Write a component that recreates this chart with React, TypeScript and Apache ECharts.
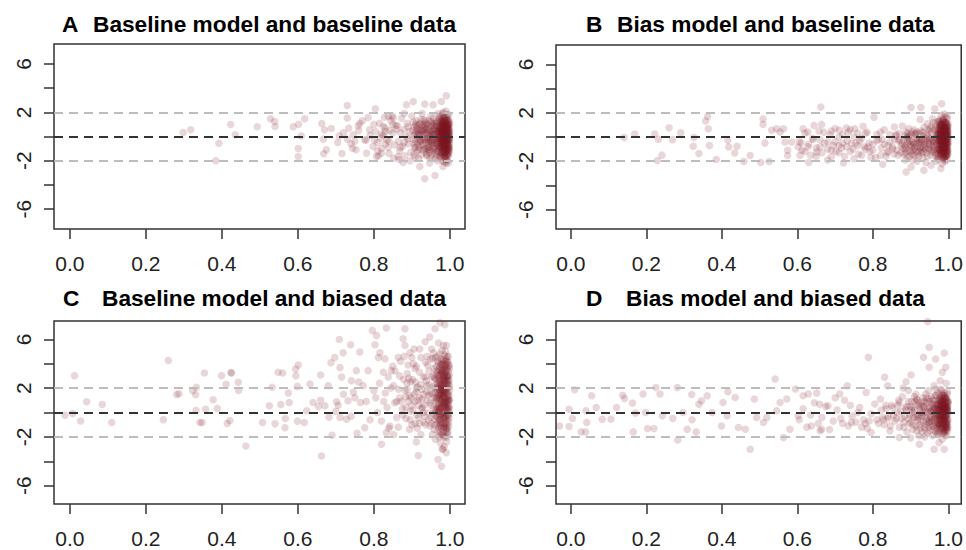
import React, { useEffect, useRef } from "react";
import * as echarts from "echarts";

const xTicks = [0, 0.2, 0.4, 0.6, 0.8, 1.0];
const yTicks = [-6, -4, -2, 0, 2, 4, 6];
const yLabelValues = [-6, -2, 2, 6];
const refLines = [0, 2, -2];

const panelLetters = ["A", "B", "C", "D"];
const panelTitles = [
  "Baseline model and baseline data",
  "Bias model and baseline data",
  "Baseline model and biased data",
  "Bias model and biased data",
];

const pointsA: number[][] = [
  [0.298,0.33],[0.318,0.55],[0.423,0.99],[0.435,0.14],[0.392,-0.55],[0.384,-2.0],[0.493,0.8],[0.528,1.46],[0.539,1.24],[0.54,0.83],
  [0.588,0.8],[0.602,1.02],[0.618,1.46],[0.609,0.05],[0.601,-1.0],[0.601,-1.66],[0.663,1.08],[0.67,0.55],[0.688,0.66],[0.667,-0.22],
  [0.675,-1.1],[0.668,-1.43],[0.709,0.05],[0.705,-0.5],[0.716,-1.4],[0.73,2.57],[0.73,1.52],[0.734,0.69],[0.759,0.88],[0.763,1.1],
  [0.746,0.14],[0.744,-0.97],[0.753,-1.1],[0.781,-1.38],[0.785,1.57],[0.804,2.29],[0.776,-0.28],[0.789,0.55],[0.798,-0.83],[0.807,-1.66],
  [0.82,-1.38],[0.825,0.83],[0.838,1.66],[0.851,1.52],[0.864,-1.66],[0.877,-2.15],[0.886,2.62],[0.904,2.9],[0.934,2.68],[0.978,2.9],
  [0.991,3.37],[0.956,2.62],[0.934,-3.5],[0.961,-3.23],[0.921,-2.48],[0.947,-2.2],[0.982,-2.48],
  [0.972,1.6],[0.975,1.2],[0.978,0.8],[0.98,0.4],[0.982,0.1],[0.984,-0.3],[0.986,-0.7],[0.988,-1.1],[0.99,-1.5],[0.992,-1.9],
  [0.994,1.8],[0.996,1.4],[0.998,0.9],[0.999,0.5],[0.997,0.2],[0.995,-0.2],[0.993,-0.6],[0.991,-1.0],[0.989,-1.3],[0.987,-1.7],
  [0.985,-2.1],[0.983,2.0],[0.981,1.5],[0.979,1.0],[0.977,0.6],[0.975,0.3],[0.973,-0.1],[0.971,-0.5],[0.974,-0.9],[0.976,-1.3],
  [0.978,-1.6],[0.98,-2.0],[0.982,1.3],[0.984,0.7],[0.986,0.3],[0.988,-0.1],[0.99,-0.4],[0.992,-0.8],[0.994,-1.2],[0.996,-1.6],
  [0.998,-0.3],[0.999,0.0],[0.997,-0.9],[0.995,0.6],[0.993,1.1],[0.991,1.6],[0.989,0.4],[0.987,0.8],[0.985,1.2],[0.983,-0.5],
  [0.981,-0.9],[0.979,-0.2],[0.977,0.1],[0.975,-0.6],[0.973,0.9],[0.971,0.2],[0.99,2.1],[0.996,-2.2],[0.984,-1.4],[0.992,0.0],
  [0.932,1.4],[0.935,0.9],[0.938,0.3],[0.94,-0.2],[0.943,-0.8],[0.946,-1.3],[0.948,-1.8],[0.95,1.7],[0.953,1.1],[0.955,0.5],
  [0.958,0.0],[0.96,-0.5],[0.962,-1.0],[0.965,-1.5],[0.967,-2.0],[0.969,1.9],[0.964,1.3],[0.961,0.7],[0.957,0.2],[0.954,-0.3],
  [0.951,-0.7],[0.947,-1.1],[0.944,0.6],[0.941,1.0],[0.937,-0.5],[0.934,-1.0],[0.966,0.4],[0.968,-0.3],[0.963,-0.1],[0.959,-1.4],
  [0.956,1.5],[0.952,-1.6],[0.945,0.1],[0.939,-1.5],[0.93,0.5],
  [0.862,0.9],[0.865,-0.4],[0.868,-1.2],[0.87,0.3],[0.873,1.5],[0.876,-0.8],[0.879,0.6],[0.882,-1.6],[0.885,0.0],[0.888,1.1],
  [0.891,-0.6],[0.894,0.4],[0.897,-1.3],[0.9,1.7],[0.903,-0.2],[0.906,0.8],[0.909,-0.9],[0.912,1.3],[0.915,0.1],[0.918,-1.8],
  [0.921,0.5],[0.924,-0.4],[0.927,1.9],[0.929,-1.1],[0.88,1.9],[0.895,-2.0],[0.91,0.2],[0.92,1.0],[0.867,-1.9],[0.905,-1.5],
  [0.805,0.4],[0.81,-0.5],[0.815,1.1],[0.82,-1.0],[0.825,0.1],[0.83,0.7],[0.835,-0.3],[0.84,-1.4],[0.845,1.3],[0.85,0.3],
  [0.855,-0.7],[0.858,0.9],[0.812,-1.6],[0.828,1.6],[0.842,0.5],[0.852,-1.8],[0.818,-0.1],[0.838,-0.9],[0.848,1.7],[0.802,-0.3],
];

const denseA: number[][] = [
  [0.966,1.1],[0.968,0.5],[0.97,-0.2],[0.972,-0.8],[0.974,-1.4],[0.976,1.7],[0.978,0.2],[0.98,-0.5],[0.982,-1.2],[0.984,1.0],
  [0.986,1.6],[0.988,0.6],[0.99,0.2],[0.992,-0.3],[0.994,-0.7],[0.996,0.0],[0.998,-1.1],[0.999,1.2],[0.997,-1.4],[0.995,1.0],
  [0.993,0.4],[0.991,-0.2],[0.989,-0.8],[0.987,0.1],[0.985,-0.4],[0.983,0.3],[0.981,0.8],[0.979,-1.1],[0.977,-0.3],[0.975,0.7],
  [0.973,1.4],[0.971,-1.0],[0.969,0.0],[0.967,-0.6],[0.97,0.8],[0.974,0.4],[0.978,-0.1],[0.982,-0.7],[0.986,-1.0],[0.99,0.6],
  [0.994,0.2],[0.998,0.6],[0.996,0.3],[0.992,0.9],[0.988,1.3],[0.984,0.0],[0.98,0.9],[0.976,-0.9],[0.972,0.3],[0.968,-1.2],
  [0.985,-1.6],[0.989,-1.9],[0.993,-1.5],[0.997,1.8],[0.981,1.9],[0.977,1.4],[0.973,-1.7],[0.995,-1.1],[0.991,1.3],[0.987,-1.3],
  [0.983,-0.2],[0.979,0.4],[0.975,-0.2],[0.971,0.6],[0.999,-0.6],[0.997,-0.1],[0.995,-0.4],[0.993,0.7],[0.991,0.1],[0.989,-0.4],
  [0.987,0.4],[0.985,0.5],[0.983,0.9],[0.981,-0.4],[0.979,-0.7],[0.977,0.9],[0.975,-1.6],[0.973,0.5],[0.99,-2.2],[0.994,-2.0],
  [0.902,0.5],[0.906,-0.6],[0.91,1.0],[0.914,-1.2],[0.918,0.3],[0.922,-0.3],[0.926,0.8],[0.93,-0.7],[0.934,0.2],[0.938,1.1],
  [0.942,-1.1],[0.946,0.5],[0.95,-0.4],[0.954,0.9],[0.958,-0.9],[0.962,0.5],[0.964,-0.6],[0.96,1.1],[0.956,-1.2],[0.952,0.2],
  [0.948,-0.1],[0.944,-0.5],[0.94,0.7],[0.936,-1.3],[0.932,-0.2],[0.928,0.4],[0.924,1.4],[0.92,-0.9],[0.916,-0.1],[0.912,0.7],
  [0.908,-1.7],[0.904,1.2],[0.95,0.0],[0.96,0.2],[0.955,-0.6],[0.945,1.3],[0.935,0.6],[0.925,-1.5],[0.915,0.9],[0.962,-1.8],
];

const coreA: number[][] = [
  [0.976,0.5],[0.978,-0.4],[0.98,1.2],[0.982,-1.5],[0.984,0.4],[0.986,-0.2],[0.988,0.9],[0.99,-1.2],[0.992,0.5],[0.994,-0.4],
  [0.996,1.0],[0.998,-0.8],[0.999,0.3],[0.997,0.7],[0.995,-0.7],[0.993,0.0],[0.991,-0.6],[0.989,1.0],[0.987,-0.9],[0.985,0.1],
  [0.983,1.5],[0.981,0.4],[0.979,-1.4],[0.977,-0.8],[0.975,0.0],[0.98,-0.2],[0.984,-0.9],[0.988,0.2],[0.992,-0.5],[0.996,0.6],
  [0.999,-0.3],[0.997,-1.0],[0.993,1.4],[0.989,-1.0],[0.985,0.9],[0.981,-0.1],[0.977,0.4],[0.99,0.0],[0.986,0.5],[0.982,0.6],
  [0.978,1.1],[0.994,0.8],[0.998,0.1],[0.995,-1.5],[0.991,0.7],[0.987,-0.5],[0.983,-0.9],[0.979,0.1],[0.976,-0.5],[0.988,-1.7],
  [0.905,0.1],[0.91,-0.4],[0.915,0.6],[0.92,0.2],[0.925,-0.7],[0.93,1.0],[0.935,-0.3],[0.94,0.3],[0.945,-0.9],[0.95,0.8],
  [0.955,0.2],[0.96,-0.3],[0.965,0.8],[0.97,-0.8],[0.972,0.0],[0.968,1.2],[0.964,-1.2],[0.958,0.6],[0.952,-0.5],[0.948,0.4],
  [0.942,-0.2],[0.938,-1.0],[0.933,0.8],[0.928,-0.1],[0.922,1.1],[0.918,-1.1],[0.912,0.4],[0.907,-0.9],[0.96,0.9],[0.955,-1.0],
  [0.945,-0.4],[0.935,1.3],[0.925,0.5],[0.915,-0.6],[0.97,0.4],[0.965,-0.4],[0.95,1.2],[0.94,-1.6],[0.93,0.2],[0.92,-0.4],
  [0.72,0.3],[0.74,-0.6],[0.76,0.5],[0.78,-0.3],[0.8,1.0],[0.82,0.2],[0.84,-0.4],[0.86,0.6],[0.88,-0.5],[0.89,0.8],
  [0.73,-0.2],[0.77,1.3],[0.79,0.1],[0.81,-1.2],[0.83,-0.6],[0.85,1.0],[0.87,-0.9],[0.89,-0.2],[0.75,-0.4],[0.83,0.4],
];

const innerA: number[][] = [
  [0.979,0.7],[0.981,-0.6],[0.983,1.1],[0.985,-1.1],[0.987,0.6],[0.989,-0.2],[0.991,0.9],[0.993,-1.1],[0.995,0.4],[0.997,-0.6],
  [0.999,1.0],[0.998,-0.9],[0.996,-0.2],[0.994,1.3],[0.992,0.2],[0.99,-0.7],[0.988,-1.3],[0.986,0.9],[0.984,0.2],[0.982,-0.3],
  [0.98,0.6],[0.978,-1.0],[0.985,1.5],[0.989,0.5],[0.993,-0.3],[0.997,0.4],[0.999,-1.2],[0.981,1.2],[0.987,-0.4],[0.991,-1.5],
  [0.995,0.9],[0.983,-0.7],[0.979,0.2],[0.99,1.4],[0.994,-0.9],[0.998,0.2],[0.986,-0.6],[0.982,0.0],[0.988,0.3],[0.996,-1.3],
  [0.992,0.6],[0.984,1.3],[0.98,-1.3],[0.997,1.2],[0.989,-0.6],[0.985,-0.3],[0.993,0.8],[0.999,-0.2],[0.981,0.3],[0.987,1.1],
];

const pointsB: number[][] = [
  [0.141,-0.05],[0.169,0.25],[0.222,0.25],[0.232,-0.19],[0.26,0.77],[0.269,-0.22],[0.291,0.36],[0.241,-1.5],[0.229,-1.95],[0.326,-0.05],
  [0.324,-0.77],[0.339,-1.37],[0.362,1.7],[0.357,1.32],[0.364,0.68],[0.367,-0.71],[0.385,-1.86],[0.416,-0.27],[0.418,-0.82],[0.44,-0.77],
  [0.434,-1.32],[0.458,-2.03],[0.475,-1.53],[0.503,-2.1],[0.509,1.48],[0.509,1.04],[0.514,-0.49],[0.525,-2.03],[0.532,0.55],[0.545,0.68],
  [0.554,0.41],[0.563,0.68],[0.567,-0.41],[0.574,-1.1],[0.574,-1.53],[0.585,-0.41],[0.602,-0.82],[0.607,-1.5],[0.615,0.68],[0.628,0.41],
  [0.63,-2.1],[0.644,0.96],[0.662,2.47],[0.664,1.04],[0.651,-1.23],[0.681,-0.41],[0.69,-1.64],[0.711,0.55],[0.722,-2.14],[0.73,0.74],
  [0.743,-0.55],[0.752,0.68],[0.774,0.88],[0.803,1.64],[0.787,-0.82],[0.826,-2.25],[0.857,0.82],[0.901,2.44],[0.927,2.44],[0.925,1.45],
  [0.964,2.33],[0.982,2.74],[0.888,-2.9],[0.935,-2.74],[0.98,-2.6],[0.901,-2.47],[0.954,-2.33],
  [0.972,1.3],[0.975,0.8],[0.978,0.4],[0.98,0.0],[0.982,-0.4],[0.984,-0.8],[0.986,-1.2],[0.988,-1.6],[0.99,-2.0],[0.992,1.7],
  [0.994,1.2],[0.996,0.7],[0.998,0.3],[0.999,-0.1],[0.997,-0.5],[0.995,-0.9],[0.993,-1.3],[0.991,-1.7],[0.989,1.9],[0.987,1.4],
  [0.985,1.0],[0.983,0.6],[0.981,0.2],[0.979,-0.2],[0.977,-0.6],[0.975,-1.0],[0.973,-1.4],[0.971,-1.8],[0.974,0.1],[0.976,-0.3],
  [0.978,-1.1],[0.98,1.1],[0.982,0.5],[0.984,0.2],[0.986,-0.1],[0.988,-0.5],[0.99,-0.9],[0.992,-1.1],[0.994,-1.5],[0.996,-1.9],
  [0.998,0.9],[0.999,0.5],[0.997,1.5],[0.995,0.2],[0.993,-0.2],[0.991,0.4],[0.989,0.0],[0.987,-0.3],[0.985,-0.7],[0.983,-1.0],
  [0.981,-1.4],[0.979,0.7],[0.977,1.0],[0.99,0.8],[0.996,-0.6],[0.984,-2.2],[0.992,0.1],[0.986,0.6],[0.98,-0.7],[0.994,-0.3],
  [0.882,-0.3],[0.885,-1.0],[0.888,0.4],[0.891,-1.6],[0.894,-0.6],[0.897,0.1],[0.9,-1.2],[0.903,-0.4],[0.906,-1.9],[0.909,0.6],
  [0.912,-0.8],[0.915,-0.1],[0.918,-1.4],[0.921,-0.5],[0.924,0.3],[0.927,-1.1],[0.93,-0.2],[0.933,-1.7],[0.936,0.8],[0.939,-0.7],
  [0.942,-1.3],[0.945,0.0],[0.948,-0.9],[0.951,0.5],[0.954,-1.5],[0.957,-0.4],[0.96,1.2],[0.963,-1.0],[0.966,-0.1],[0.968,-2.0],
  [0.955,0.9],[0.94,-2.1],[0.925,-0.9],[0.91,-1.5],[0.895,0.7],[0.962,-0.6],[0.947,-0.3],[0.932,0.4],[0.917,-2.0],[0.902,-0.8],
  [0.887,-1.3],[0.958,1.5],[0.944,1.1],[0.928,-0.5],[0.913,0.2],
  [0.605,-0.4],[0.612,-1.1],[0.62,0.3],[0.628,-0.8],[0.635,-1.5],[0.642,-0.2],[0.65,-0.9],[0.657,0.5],[0.665,-1.3],[0.672,-0.5],
  [0.68,-1.9],[0.687,0.2],[0.695,-0.7],[0.702,-1.2],[0.71,0.0],[0.717,-0.9],[0.725,-1.6],[0.732,-0.3],[0.74,0.6],[0.747,-1.0],
  [0.755,-0.5],[0.762,-1.4],[0.77,-0.1],[0.777,-0.8],[0.785,0.4],[0.792,-1.2],[0.8,-0.6],[0.807,-1.7],[0.815,-0.2],[0.822,-0.9],
  [0.83,0.6],[0.837,-1.3],[0.845,-0.4],[0.852,-1.0],[0.86,0.1],[0.867,-1.5],[0.875,-0.7],[0.878,0.9],[0.63,-0.6],[0.66,-0.2],
  [0.69,-1.1],[0.72,-0.5],[0.75,-1.8],[0.78,-1.0],[0.81,0.2],[0.84,-0.7],[0.87,-0.2],[0.7,0.7],[0.76,0.3],[0.82,-1.5],
];

const denseB: number[][] = [
  [0.966,0.9],[0.968,0.3],[0.97,-0.4],[0.972,-1.0],[0.974,-1.6],[0.976,1.4],[0.978,0.0],[0.98,-0.6],[0.982,-1.3],[0.984,0.8],
  [0.986,1.5],[0.988,0.5],[0.99,0.1],[0.992,-0.4],[0.994,-0.8],[0.996,-0.1],[0.998,-1.2],[0.999,1.1],[0.997,-1.5],[0.995,0.9],
  [0.993,0.3],[0.991,-0.3],[0.989,-0.9],[0.987,0.0],[0.985,-0.5],[0.983,0.2],[0.981,0.7],[0.979,-1.2],[0.977,-0.4],[0.975,0.6],
  [0.973,1.2],[0.971,-1.1],[0.969,-0.1],[0.967,-0.7],[0.97,0.7],[0.974,0.3],[0.978,-0.2],[0.982,-0.8],[0.986,-1.1],[0.99,0.5],
  [0.994,0.1],[0.998,0.5],[0.996,0.2],[0.992,0.8],[0.988,1.2],[0.984,-0.1],[0.98,0.8],[0.976,-1.0],[0.972,0.2],[0.968,-1.3],
  [0.985,-1.7],[0.989,-1.8],[0.993,-1.6],[0.997,1.7],[0.981,1.8],[0.977,1.3],[0.973,-1.8],[0.995,-1.2],[0.991,1.2],[0.987,-1.4],
  [0.983,-0.3],[0.979,0.3],[0.975,-0.3],[0.971,0.5],[0.999,-0.7],[0.997,-0.2],[0.995,-0.5],[0.993,0.6],[0.991,0.0],[0.989,-0.5],
  [0.884,-0.7],[0.89,-0.1],[0.896,-1.1],[0.902,0.2],[0.908,-0.5],[0.914,-1.2],[0.92,-0.2],[0.926,0.5],[0.932,-0.9],[0.938,-0.4],
  [0.944,-1.6],[0.95,-0.2],[0.956,0.3],[0.962,-1.3],[0.964,0.6],[0.958,-0.8],[0.952,-1.1],[0.946,0.6],[0.94,-0.1],[0.934,-1.2],
  [0.928,-0.3],[0.922,-1.6],[0.916,0.4],[0.91,-0.6],[0.904,-1.4],[0.898,-0.3],[0.892,0.3],[0.886,-1.9],[0.96,-0.3],[0.948,-0.6],
];

const coreB: number[][] = [
  [0.976,0.3],[0.978,-0.6],[0.98,1.0],[0.982,-1.6],[0.984,0.2],[0.986,-0.4],[0.988,0.7],[0.99,-1.3],[0.992,0.3],[0.994,-0.6],
  [0.996,0.8],[0.998,-1.0],[0.999,0.1],[0.997,0.5],[0.995,-0.9],[0.993,-0.2],[0.991,-0.8],[0.989,0.8],[0.987,-1.1],[0.985,-0.1],
  [0.983,1.3],[0.981,0.2],[0.979,-1.5],[0.977,-1.0],[0.975,-0.2],[0.98,-0.4],[0.984,-1.1],[0.988,0.0],[0.992,-0.7],[0.996,0.4],
  [0.999,-0.5],[0.997,-1.2],[0.993,1.2],[0.989,-1.2],[0.985,0.7],[0.981,-0.3],[0.977,0.2],[0.99,-0.2],[0.986,0.3],[0.982,0.4],
  [0.978,0.9],[0.994,0.6],[0.998,-0.1],[0.995,-1.6],[0.991,0.5],[0.987,-0.7],[0.983,-1.1],[0.979,-0.1],[0.976,-0.7],[0.988,-1.8],
  [0.852,-0.8],[0.858,-0.2],[0.864,-1.1],[0.87,0.3],[0.876,-0.5],[0.882,-1.4],[0.888,-0.9],[0.894,0.0],[0.9,-0.6],[0.906,-1.1],
  [0.912,0.3],[0.918,-0.8],[0.924,-0.3],[0.93,-1.3],[0.936,-0.6],[0.942,0.2],[0.948,-1.0],[0.954,-0.1],[0.96,-0.7],[0.966,-1.5],
  [0.97,0.2],[0.964,-0.4],[0.958,-1.2],[0.952,0.7],[0.946,-0.5],[0.94,-1.0],[0.934,0.1],[0.928,-0.8],[0.922,-1.2],[0.916,-0.3],
  [0.91,-0.9],[0.904,0.4],[0.898,-1.6],[0.892,-0.4],[0.886,0.1],[0.88,-0.9],[0.874,-1.3],[0.868,-0.3],[0.862,0.2],[0.856,-1.4],
  [0.61,-0.5],[0.62,-1.2],[0.64,-0.1],[0.66,-0.8],[0.67,0.4],[0.68,-1.0],[0.7,-0.4],[0.71,-1.3],[0.72,0.2],[0.73,-0.8],
  [0.74,-1.2],[0.75,0.0],[0.76,-0.7],[0.77,-1.5],[0.78,0.3],[0.79,-0.5],[0.8,-1.1],[0.81,-0.3],[0.82,0.4],[0.83,-0.6],
  [0.84,-1.2],[0.845,0.2],[0.65,-1.6],[0.69,0.5],[0.71,-0.7],[0.735,0.4],[0.765,-0.3],[0.795,-1.7],[0.825,-0.2],[0.835,-1.6],
];

const innerB: number[][] = [
  [0.979,0.5],[0.981,-0.8],[0.983,0.9],[0.985,-1.3],[0.987,0.4],[0.989,-0.4],[0.991,0.7],[0.993,-1.2],[0.995,0.2],[0.997,-0.8],
  [0.999,0.8],[0.998,-1.1],[0.996,-0.4],[0.994,1.1],[0.992,0.0],[0.99,-0.9],[0.988,-1.4],[0.986,0.7],[0.984,0.0],[0.982,-0.5],
  [0.98,0.4],[0.978,-1.2],[0.985,1.3],[0.989,0.3],[0.993,-0.5],[0.997,0.2],[0.999,-1.4],[0.981,1.0],[0.987,-0.6],[0.991,-1.6],
  [0.995,0.7],[0.983,-0.9],[0.979,0.0],[0.99,1.2],[0.994,-1.0],[0.998,0.0],[0.986,-0.8],[0.982,-0.2],[0.988,0.1],[0.996,-1.4],
  [0.992,0.4],[0.984,1.1],[0.98,-1.4],[0.997,1.0],[0.989,-0.8],[0.985,-0.5],[0.993,0.6],[0.999,-0.4],[0.981,0.1],[0.987,0.9],
];

const pointsC: number[][] = [
  [-0.013,-0.22],[0.012,3.02],[0.007,-0.08],[0.028,-0.69],[0.044,0.88],[0.085,0.66],[0.11,-0.82],[0.259,4.26],[0.246,-0.6],[0.281,1.48],
  [0.287,1.54],[0.323,1.79],[0.331,1.46],[0.333,2.06],[0.332,0.16],[0.354,3.24],[0.357,0.27],[0.342,-0.82],[0.348,-0.82],[0.377,1.04],
  [0.388,0.33],[0.399,3.02],[0.411,2.31],[0.424,3.27],[0.425,3.24],[0.443,2.47],[0.444,1.81],[0.414,-0.91],[0.421,-0.66],[0.463,-2.75],
  [0.507,-0.82],[0.525,0.55],[0.532,2.06],[0.54,-0.93],[0.548,3.3],[0.56,3.24],[0.555,0.66],[0.567,-0.49],[0.575,1.59],[0.577,0.82],
  [0.566,-1.24],[0.594,3.57],[0.601,3.9],[0.595,3.02],[0.599,2.14],[0.599,-0.71],[0.617,-0.82],[0.623,0.14],[0.632,2.34],[0.64,0.82],
  [0.654,0.49],[0.66,3.08],[0.662,-3.57],[0.671,0.55],[0.682,-0.38],[0.687,4.07],[0.69,-1.87],[0.697,4.5],[0.702,0.88],[0.709,5.99],
  [0.711,3.68],[0.706,0.6],[0.711,-0.41],[0.719,4.89],[0.732,0.96],[0.739,5.55],[0.741,2.61],[0.746,1.65],[0.728,-0.55],[0.754,3.43],
  [0.756,-1.7],[0.763,4.95],[0.765,0.82],[0.772,2.2],[0.785,3.43],[0.776,-1.24],[0.796,6.73],[0.803,5.55],[0.807,6.32],[0.8,1.79],
  [0.816,4.89],[0.82,-2.61],[0.833,6.92],[0.829,4.4],[0.833,-1.65],[0.846,3.43],[0.842,-1.1],[0.864,4.53],[0.882,6.87],[0.877,6.04],
  [0.882,5.49],[0.895,4.89],[0.912,-2.42],[0.917,-3.52],[0.947,6.18],[0.961,6.87],[0.974,7.36],[0.987,7.2],[0.991,5.49],[0.978,-4.4],
  [0.969,-3.85],[0.982,-3.02],[0.991,-3.3],
  [0.952,5.2],[0.955,4.4],[0.958,3.6],[0.96,2.8],[0.962,2.0],[0.964,1.2],[0.966,0.4],[0.968,-0.4],[0.97,-1.2],[0.972,-2.0],
  [0.974,4.8],[0.976,4.0],[0.978,3.2],[0.98,2.4],[0.982,1.6],[0.984,0.8],[0.986,0.0],[0.988,-0.8],[0.99,-1.6],[0.992,-2.4],
  [0.994,4.2],[0.996,3.4],[0.998,2.6],[0.999,1.8],[0.997,1.0],[0.995,0.2],[0.993,-0.6],[0.991,-1.4],[0.989,5.0],[0.987,3.8],
  [0.985,3.0],[0.983,2.2],[0.981,1.4],[0.979,0.6],[0.977,-0.2],[0.975,-1.0],[0.973,-1.8],[0.971,3.5],[0.969,2.6],[0.967,1.8],
  [0.965,1.0],[0.963,0.2],[0.961,-0.6],[0.959,-1.4],[0.957,4.9],[0.954,1.5],[0.956,-0.1],[0.953,2.9],[0.99,4.4],[0.992,3.0],
  [0.994,2.0],[0.996,1.3],[0.998,0.5],[0.985,-2.8],[0.98,-3.0],[0.975,-2.5],[0.97,5.7],[0.983,5.5],[0.988,1.2],[0.986,2.6],
  [0.978,1.0],[0.974,0.3],[0.966,3.1],[0.962,-2.2],[0.95,0.6],[0.96,-1.0],[0.984,-1.2],[0.992,0.7],[0.976,2.0],[0.968,4.2],
  [0.882,1.8],[0.885,-0.5],[0.888,3.2],[0.891,0.9],[0.894,-1.4],[0.897,2.5],[0.9,4.5],[0.903,0.2],[0.906,1.5],[0.909,-0.9],
  [0.912,3.8],[0.915,2.1],[0.918,0.6],[0.921,5.2],[0.924,-1.8],[0.927,1.1],[0.93,2.9],[0.933,-0.3],[0.936,4.1],[0.939,1.7],
  [0.942,0.0],[0.945,3.4],[0.948,-1.1],[0.946,2.3],[0.935,5.8],[0.925,0.3],[0.913,-0.2],[0.898,1.2],[0.887,2.4],[0.94,1.0],
  [0.805,1.2],[0.81,0.0],[0.815,2.4],[0.82,-0.7],[0.825,3.3],[0.83,1.6],[0.835,0.4],[0.84,-1.3],[0.845,2.0],[0.85,3.8],
  [0.855,0.8],[0.86,-0.4],[0.865,1.9],[0.87,4.2],[0.875,0.3],[0.878,2.7],[0.812,4.5],[0.838,2.9],[0.852,-1.8],[0.868,1.2],
  [0.826,0.9],[0.66,1.0],[0.68,2.2],[0.7,0.1],[0.72,1.5],[0.74,-0.3],[0.76,2.5],[0.78,0.9],[0.79,-0.6],[0.715,2.9],[0.75,1.2],
];

const denseC: number[][] = [
  [0.962,4.5],[0.964,3.8],[0.966,2.4],[0.968,1.4],[0.97,0.7],[0.972,-0.1],[0.974,-0.9],[0.976,-1.6],[0.978,4.4],[0.98,3.6],
  [0.982,2.9],[0.984,2.0],[0.986,1.3],[0.988,0.5],[0.99,-0.3],[0.992,-1.0],[0.994,-1.8],[0.996,4.6],[0.998,3.9],[0.999,3.1],
  [0.997,2.3],[0.995,1.6],[0.993,0.9],[0.991,0.2],[0.989,-0.5],[0.987,-1.2],[0.985,-2.0],[0.983,4.0],[0.981,3.3],[0.979,2.7],
  [0.977,1.7],[0.975,1.0],[0.973,0.1],[0.971,-0.6],[0.969,-1.5],[0.967,4.6],[0.965,3.4],[0.963,2.7],[0.961,1.6],[0.97,3.0],
  [0.975,2.3],[0.98,1.1],[0.985,0.4],[0.99,1.9],[0.995,2.8],[0.999,1.0],[0.993,3.6],[0.987,2.2],[0.981,0.0],[0.976,-0.5],
  [0.972,1.9],[0.968,0.3],[0.964,-0.3],[0.96,0.9],[0.978,-1.3],[0.984,-0.5],[0.99,2.6],[0.996,-0.2],[0.998,1.4],[0.994,0.4],
  [0.988,3.3],[0.982,1.2],[0.977,3.9],[0.973,2.5],[0.969,1.1],[0.983,-1.5],[0.991,-2.0],[0.997,-1.1],[0.986,4.7],[0.979,5.1],
  [0.884,0.4],[0.89,3.9],[0.896,-0.6],[0.902,2.7],[0.908,0.9],[0.914,-1.3],[0.92,3.3],[0.926,1.9],[0.932,0.6],[0.938,2.6],
  [0.944,-0.6],[0.95,4.4],[0.956,2.1],[0.958,0.3],[0.954,-1.8],[0.948,1.6],[0.942,3.9],[0.936,-1.0],[0.93,1.5],[0.924,4.5],
  [0.918,-0.4],[0.912,1.7],[0.906,5.2],[0.9,-1.0],[0.894,1.4],[0.95,-0.4],[0.94,2.2],[0.93,0.0],[0.92,1.2],[0.91,2.5],
];

const coreC: number[][] = [
  [0.972,2.8],[0.974,1.5],[0.976,0.4],[0.978,-0.8],[0.98,3.9],[0.982,2.6],[0.984,1.4],[0.986,0.6],[0.988,-0.3],[0.99,-1.3],
  [0.992,4.0],[0.994,3.0],[0.996,2.0],[0.998,1.0],[0.999,0.0],[0.997,-0.8],[0.995,-1.6],[0.993,4.6],[0.991,3.4],[0.989,2.4],
  [0.987,1.6],[0.985,0.8],[0.983,0.0],[0.981,-0.9],[0.979,4.2],[0.977,3.1],[0.975,2.0],[0.973,1.2],[0.971,0.1],[0.99,3.6],
  [0.994,1.4],[0.998,0.3],[0.982,3.5],[0.986,-1.0],[0.978,2.2],[0.974,3.7],[0.996,2.6],[0.988,4.2],[0.984,2.8],[0.98,-0.1],
  [0.976,1.4],[0.992,0.4],[0.997,3.8],[0.985,1.9],[0.979,0.9],[0.973,-0.6],[0.99,0.9],[0.995,-0.3],[0.983,-1.9],[0.987,3.1],
  [0.852,2.2],[0.86,0.9],[0.868,3.0],[0.876,-0.2],[0.884,1.3],[0.892,2.8],[0.9,0.6],[0.908,3.6],[0.916,1.0],[0.924,2.3],
  [0.932,-0.8],[0.94,4.6],[0.948,0.8],[0.956,3.0],[0.964,0.0],[0.968,2.2],[0.96,1.2],[0.952,-0.9],[0.944,1.4],[0.936,2.9],
  [0.928,0.4],[0.92,-0.9],[0.912,2.0],[0.904,4.0],[0.896,0.1],[0.888,1.9],[0.88,4.6],[0.872,0.9],[0.864,-1.2],[0.856,3.4],
];

const innerC: number[][] = [
  [0.966,2.0],[0.968,3.3],[0.97,1.5],[0.972,0.4],[0.974,2.6],[0.976,3.4],[0.978,0.4],[0.98,1.8],[0.982,-0.4],[0.984,3.1],
  [0.986,1.8],[0.988,2.8],[0.99,0.4],[0.992,1.6],[0.994,2.5],[0.996,0.8],[0.998,2.2],[0.999,3.6],[0.997,0.4],[0.995,1.1],
  [0.993,2.3],[0.991,1.0],[0.989,3.9],[0.987,0.9],[0.985,2.5],[0.983,1.6],[0.981,2.1],[0.979,3.4],[0.977,0.8],[0.975,1.6],
  [0.973,3.1],[0.971,2.1],[0.969,0.5],[0.967,-0.9],[0.99,-0.9],[0.994,-1.3],[0.98,-1.8],[0.986,-0.4],[0.976,-1.1],[0.996,3.0],
  [0.984,4.3],[0.978,1.5],[0.992,2.9],[0.988,1.8],[0.982,0.6],[0.974,-0.3],[0.998,-0.5],[0.97,4.0],[0.995,4.1],[0.986,3.5],
];

const pointsD: number[][] = [
  [-0.03,-1.1],[-0.005,0.27],[-0.005,-1.15],[0.01,1.86],[0.004,-0.49],[0.027,-1.59],[0.039,-1.59],[0.04,0.14],[0.042,-0.82],[0.055,1.37],
  [0.067,0.41],[0.083,-0.55],[0.106,-0.55],[0.121,0.41],[0.137,1.42],[0.142,1.15],[0.163,0.77],[0.165,-1.59],[0.171,-0.05],[0.191,1.51],
  [0.198,0.0],[0.203,-1.32],[0.22,-1.32],[0.225,2.05],[0.236,1.51],[0.242,-0.27],[0.27,-0.49],[0.282,2.05],[0.283,-2.25],[0.297,0.0],
  [0.308,-1.37],[0.32,1.48],[0.321,-0.6],[0.332,-1.59],[0.339,0.68],[0.346,0.96],[0.361,1.37],[0.374,0.0],[0.399,-1.1],[0.403,0.82],
  [0.414,-0.27],[0.416,1.7],[0.435,1.23],[0.444,-1.23],[0.462,-1.37],[0.475,-3.01],[0.486,1.1],[0.492,-0.41],[0.51,-0.82],[0.519,-0.41],
  [0.541,2.74],[0.545,0.14],[0.554,0.82],[0.563,-2.05],[0.572,1.1],[0.58,-1.37],[0.595,1.92],[0.602,-0.27],[0.615,1.37],[0.629,1.51],
  [0.637,-1.1],[0.651,1.59],[0.659,0.68],[0.664,-1.37],[0.681,0.55],[0.712,1.51],[0.732,2.19],[0.743,-0.82],[0.76,0.0],[0.788,4.52],
  [0.782,1.64],[0.795,-1.64],[0.831,2.88],[0.839,2.19],[0.87,-2.05],[0.888,2.52],[0.901,3.07],[0.923,-2.6],[0.934,4.52],[0.949,5.34],
  [0.945,7.45],[0.949,3.7],[0.966,4.38],[0.989,4.88],[0.993,3.7],[0.984,3.29],[0.962,-3.01],[0.989,-3.01],[0.975,-2.47],
  [0.932,1.2],[0.935,0.5],[0.938,-0.3],[0.941,-1.0],[0.944,-1.7],[0.947,1.8],[0.95,0.9],[0.953,0.1],[0.956,-0.7],[0.959,-1.4],
  [0.962,2.2],[0.965,1.4],[0.968,0.6],[0.971,-0.2],[0.974,-0.9],[0.977,-1.6],[0.98,1.9],[0.983,1.1],[0.986,0.3],[0.989,-0.5],
  [0.992,-1.2],[0.995,-1.9],[0.997,1.5],[0.999,0.7],[0.998,-0.1],[0.996,-0.8],[0.994,2.4],[0.991,0.4],[0.988,-1.5],[0.985,-0.2],
  [0.982,0.8],[0.979,-0.4],[0.976,0.2],[0.973,1.0],[0.97,-1.1],[0.967,0.0],[0.964,-0.5],[0.961,0.7],[0.958,-1.9],[0.955,1.3],
  [0.952,-0.3],[0.949,-1.2],[0.946,0.3],[0.943,0.8],[0.94,1.5],[0.937,-2.0],[0.934,-0.8],[0.99,1.2],[0.984,-2.2],[0.978,2.6],
  [0.972,-1.7],[0.966,1.9],[0.96,-0.1],[0.987,0.0],[0.993,0.5],[0.981,-0.9],[0.975,0.5],[0.963,0.3],[0.957,0.4],[0.951,-0.6],
  [0.862,-0.5],[0.866,0.6],[0.87,-1.2],[0.874,0.1],[0.878,1.3],[0.882,-0.8],[0.886,0.4],[0.89,-1.6],[0.894,1.8],[0.898,-0.2],
  [0.902,0.9],[0.906,-1.0],[0.91,0.2],[0.914,1.5],[0.918,-0.6],[0.922,-1.9],[0.926,0.5],[0.929,-0.3],[0.88,2.0],[0.9,-2.1],
  [0.915,1.1],[0.925,-1.3],[0.868,1.0],[0.905,0.0],
  [0.605,-0.6],[0.615,0.3],[0.625,-1.2],[0.635,-0.2],[0.645,0.8],[0.655,-0.9],[0.665,-0.4],[0.675,0.5],[0.685,-1.4],[0.695,-0.7],
  [0.705,0.2],[0.715,-0.5],[0.725,1.0],[0.735,-1.1],[0.745,-0.3],[0.755,-0.8],[0.765,0.4],[0.775,-0.6],[0.785,-1.3],[0.795,-0.1],
  [0.805,0.7],[0.815,-0.9],[0.825,-0.4],[0.835,0.3],[0.845,-1.5],[0.855,-0.2],[0.66,-1.5],[0.7,1.2],[0.74,0.6],[0.78,-0.9],
  [0.82,1.1],[0.85,0.6],[0.77,-1.2],[0.79,-0.7],[0.81,-0.6],[0.83,-1.0],[0.84,-0.5],[0.72,-0.9],
];

const denseD: number[][] = [
  [0.962,1.0],[0.964,0.4],[0.966,-0.3],[0.968,-0.9],[0.97,-1.5],[0.972,1.6],[0.974,0.1],[0.976,-0.6],[0.978,-1.3],[0.98,0.9],
  [0.982,1.5],[0.984,0.5],[0.986,0.1],[0.988,-0.4],[0.99,-0.8],[0.992,-0.1],[0.994,-1.2],[0.996,1.1],[0.998,-1.5],[0.999,0.9],
  [0.997,0.3],[0.995,-0.3],[0.993,-0.9],[0.991,0.0],[0.989,-0.5],[0.987,0.2],[0.985,0.7],[0.983,-1.2],[0.981,-0.4],[0.979,0.6],
  [0.977,1.3],[0.975,-1.1],[0.973,-0.1],[0.971,-0.7],[0.969,0.7],[0.967,0.3],[0.965,-0.2],[0.963,-0.8],[0.961,-1.1],[0.99,0.5],
  [0.994,0.1],[0.998,0.5],[0.996,0.2],[0.992,0.8],[0.988,1.2],[0.984,-0.1],[0.98,0.8],[0.976,-1.0],[0.972,0.2],[0.968,-1.3],
  [0.985,-1.7],[0.989,-1.8],[0.993,-1.6],[0.997,1.7],[0.981,1.8],[0.977,0.9],[0.973,-1.8],[0.995,-1.2],[0.991,1.2],[0.987,-1.4],
  [0.884,-0.3],[0.89,0.5],[0.896,-0.9],[0.902,0.2],[0.908,-0.4],[0.914,-1.1],[0.92,0.6],[0.926,-0.7],[0.932,0.0],[0.938,0.9],
  [0.944,-0.5],[0.95,0.4],[0.956,-1.1],[0.958,1.0],[0.954,0.1],[0.948,-0.8],[0.942,1.2],[0.936,-1.2],[0.93,0.6],[0.924,0.3],
  [0.918,-0.2],[0.912,0.9],[0.906,-1.4],[0.9,0.5],[0.894,-0.5],[0.95,-1.5],[0.94,0.1],[0.93,-1.6],[0.92,-0.4],[0.91,1.3],
];

const coreD: number[][] = [
  [0.972,0.6],[0.974,-0.3],[0.976,1.1],[0.978,-1.2],[0.98,0.3],[0.982,-0.3],[0.984,0.9],[0.986,-1.0],[0.988,0.5],[0.99,-0.3],
  [0.992,1.0],[0.994,-0.7],[0.996,0.4],[0.998,0.8],[0.999,-0.6],[0.997,0.0],[0.995,-0.5],[0.993,1.1],[0.991,-1.0],[0.989,0.1],
  [0.987,1.4],[0.985,0.3],[0.983,-1.3],[0.981,-0.7],[0.979,0.0],[0.977,-0.3],[0.975,-0.9],[0.973,0.3],[0.971,-0.5],[0.99,0.3],
  [0.986,0.6],[0.982,0.5],[0.978,1.0],[0.994,0.7],[0.998,0.1],[0.995,-1.4],[0.991,0.6],[0.987,-0.6],[0.983,-0.9],[0.979,0.2],
  [0.976,-0.4],[0.988,-1.6],[0.992,-0.4],[0.996,-1.0],[0.984,0.0],[0.98,-0.6],[0.974,0.7],[0.97,0.2],[0.993,0.2],[0.989,1.6],
  [0.822,0.2],[0.828,-0.6],[0.834,0.6],[0.84,-0.3],[0.846,-1.1],[0.852,0.4],[0.858,-0.7],[0.864,0.0],[0.87,0.8],[0.876,-0.5],
  [0.882,-1.2],[0.888,0.2],[0.894,0.9],[0.9,-0.8],[0.906,0.4],[0.912,-0.4],[0.918,1.0],[0.924,-1.0],[0.93,-0.2],[0.936,0.4],
  [0.942,-0.7],[0.948,1.1],[0.954,-0.4],[0.96,0.2],[0.966,-1.6],[0.968,1.4],[0.962,-0.6],[0.956,0.7],[0.95,-0.9],[0.944,0.0],
  [0.938,-1.4],[0.932,0.9],[0.926,0.0],[0.92,0.8],[0.916,-1.5],
];

const innerD: number[][] = [
  [0.979,0.5],[0.981,-0.6],[0.983,1.0],[0.985,-1.0],[0.987,0.6],[0.989,-0.2],[0.991,0.8],[0.993,-1.1],[0.995,0.4],[0.997,-0.6],
  [0.999,0.9],[0.998,-0.9],[0.996,-0.2],[0.994,1.2],[0.992,0.2],[0.99,-0.7],[0.988,-1.3],[0.986,0.9],[0.984,0.2],[0.982,-0.3],
  [0.98,0.6],[0.978,-1.0],[0.985,1.4],[0.989,0.5],[0.993,-0.3],[0.997,0.4],[0.999,-1.2],[0.981,1.2],[0.987,-0.4],[0.991,-1.5],
  [0.995,0.9],[0.983,-0.7],[0.979,0.2],[0.99,1.4],[0.994,-0.9],[0.998,0.2],[0.986,-0.6],[0.982,0.0],[0.988,0.3],[0.996,-1.3],
];

const panelPoints = [
  pointsA.concat(denseA, coreA, innerA),
  pointsB.concat(denseB, coreB, innerB),
  pointsC.concat(denseC, coreC, innerC),
  pointsD.concat(denseD, coreD, innerD),
];

const FONT = "'Liberation Sans', Arial, Helvetica, sans-serif";

// layout (pixels)
const grids = [
  { left: 54, top: 44, width: 411, height: 185 },
  { left: 556, top: 45, width: 408, height: 184 },
  { left: 54, top: 321, width: 411, height: 183 },
  { left: 556, top: 321, width: 408, height: 183 },
];
const xRanges = [
  [-0.042, 1.04],
  [-0.0395, 1.034],
  [-0.042, 1.04],
  [-0.0395, 1.034],
];
const yRanges = [
  [-7.65, 7.65],
  [-7.6, 7.6],
  [-7.5, 7.5],
  [-7.5, 7.5],
];
const titlePos = [
  { letterX: 62, textX: 93, y: 24 },
  { letterX: 586, textX: 617, y: 24 },
  { letterX: 63, textX: 102, y: 298 },
  { letterX: 586, textX: 626, y: 298 },
];

export default function App() {
  const ref = useRef<HTMLDivElement>(null);
  useEffect(() => {
    document.body.style.margin = "0";
    if (!ref.current) return;
    const chart = echarts.init(ref.current, null, { renderer: "svg" });
    const lineColors = ["#333333", "#bdbdbd", "#bdbdbd"];
    const option: any = {
      animation: false,
      backgroundColor: "#ffffff",
      grid: grids.map((g) => ({
        ...g,
        show: true,
        borderColor: "#333",
        borderWidth: 1.5,
        backgroundColor: "transparent",
        containLabel: false,
      })),
      xAxis: grids.map((_, i) => ({
        gridIndex: i,
        type: "value",
        min: xRanges[i][0],
        max: xRanges[i][1],
        splitLine: { show: false },
        axisLine: { show: false, onZero: false },
        axisTick: {
          show: true,
          length: 10,
          customValues: xTicks,
          lineStyle: { color: "#333", width: 1.5 },
        },
        axisLabel: {
          customValues: xTicks,
          formatter: (v: number) => v.toFixed(1),
          fontSize: 21,
          fontFamily: FONT,
          color: "#222",
          margin: 24,
        },
      })),
      yAxis: grids.map((_, i) => ({
        gridIndex: i,
        type: "value",
        min: yRanges[i][0],
        max: yRanges[i][1],
        splitLine: { show: false },
        axisLine: { show: false, onZero: false },
        axisTick: {
          show: true,
          length: 10,
          customValues: yTicks,
          lineStyle: { color: "#333", width: 1.5 },
        },
        axisLabel: {
          customValues: yLabelValues,
          formatter: (v: number) => String(v),
          rotate: 90,
          fontSize: 21,
          fontFamily: FONT,
          color: "#222",
          margin: 20,
        },
      })),
      series: panelPoints.map((pts, i) => ({
        type: "scatter",
        xAxisIndex: i,
        yAxisIndex: i,
        data: pts,
        symbol: "circle",
        symbolSize: 7.5,
        itemStyle: { color: "rgba(122,20,32,0.22)" },
        silent: true,
        markLine: {
          silent: true,
          symbol: "none",
          label: { show: false },
          data: refLines.map((v, k) => ({
            yAxis: v,
            lineStyle: { color: lineColors[k], width: 2, type: [9, 6] },
          })),
        },
      })),
      graphic: titlePos.flatMap((p, i) => [
        {
          type: "text",
          x: p.letterX,
          y: p.y,
          style: {
            text: panelLetters[i],
            font: `bold 22.7px ${FONT}`,
            fill: "#000",
            textAlign: "left",
            textVerticalAlign: "middle",
          },
        },
        {
          type: "text",
          x: p.textX,
          y: p.y,
          style: {
            text: panelTitles[i],
            font: `bold 22.7px ${FONT}`,
            fill: "#000",
            textAlign: "left",
            textVerticalAlign: "middle",
          },
        },
      ]),
    };
    chart.setOption(option);
    return () => chart.dispose();
  }, []);
  return <div ref={ref} style={{ width: 966, height: 550 }} />;
}
